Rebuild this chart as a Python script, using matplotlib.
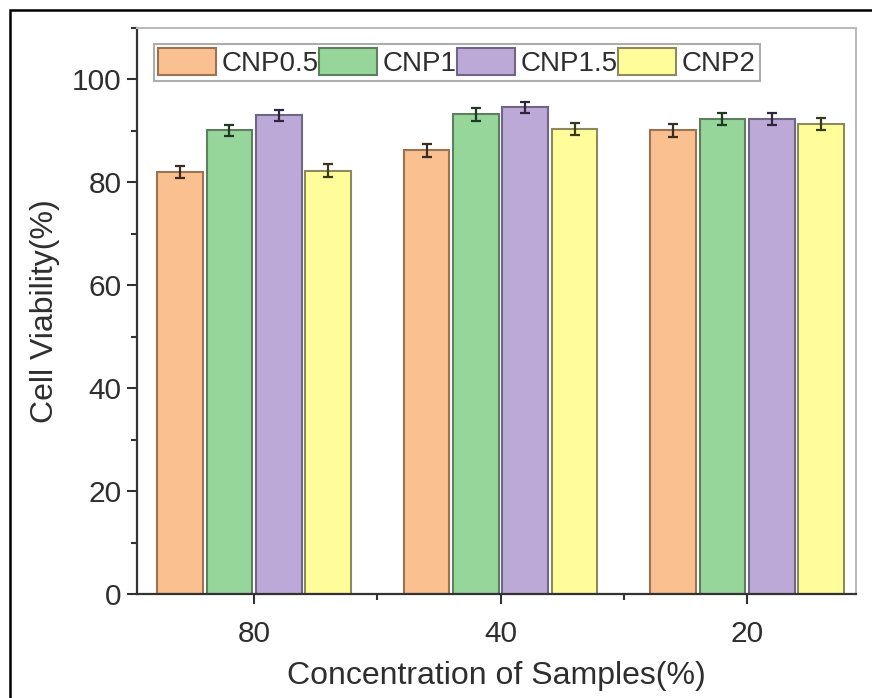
import numpy as np
import matplotlib
matplotlib.use("Agg")
import matplotlib.pyplot as plt
from matplotlib.patches import Rectangle
from matplotlib.ticker import MultipleLocator, FixedLocator

plt.rcParams['font.family'] = ['Liberation Sans', 'DejaVu Sans']

# Data
concentrations = ["80", "40", "20"]
series_names = ["CNP0.5", "CNP1", "CNP1.5", "CNP2"]
cnp05 = [82.0, 86.2, 90.1]
cnp1 = [90.1, 93.2, 92.3]
cnp15 = [93.0, 94.6, 92.3]
cnp2 = [82.3, 90.4, 91.4]
err05 = [1.2, 1.2, 1.2]
err1 = [1.1, 1.2, 1.2]
err15 = [1.1, 1.1, 1.2]
err2 = [1.2, 1.2, 1.2]

values = [cnp05, cnp1, cnp15, cnp2]
errors = [err05, err1, err15, err2]

fills = ["#FBC08F", "#97D69A", "#BDA9D8", "#FFFD9A"]
edges = ["#9A7452", "#5E7E5E", "#6F6685", "#8C8A5C"]
errcols = ["#3A2C22", "#1F3A22", "#2E2540", "#3A3A18"]

text_col = "#2E2E2E"

fig = plt.figure(figsize=(8.72, 6.98), dpi=100)
ax = fig.add_axes([137 / 872, 1 - 594 / 698, (856 - 137) / 872, (594 - 28) / 698])

x = np.arange(1, len(concentrations) + 1)
step = 0.2
width = 0.185
offsets = (np.arange(4) - 1.5) * step

handles = []
for i in range(4):
    b = ax.bar(x + offsets[i], values[i], width=width, color=fills[i],
               edgecolor=edges[i], linewidth=1.5, label=series_names[i], zorder=2)
    ax.errorbar(x + offsets[i], values[i], yerr=errors[i], fmt="none",
                ecolor=errcols[i], elinewidth=1.6, capsize=3.8, capthick=1.6, zorder=3)
    handles.append(b)

ax.set_xlim(0.525, 3.442)
ax.set_ylim(0, 110)

ax.set_xticks(x)
ax.set_xticklabels(concentrations)
ax.xaxis.set_minor_locator(FixedLocator([1.5, 2.5]))
ax.yaxis.set_major_locator(MultipleLocator(20))
ax.yaxis.set_minor_locator(MultipleLocator(10))

ax.tick_params(axis="both", which="major", direction="out", length=7, width=1.5,
               color="#333333", labelsize=21.5, labelcolor=text_col)
ax.tick_params(axis="x", which="major", pad=12)
ax.tick_params(axis="y", which="major", pad=4)
ax.tick_params(axis="both", which="minor", direction="out", length=4, width=1.5,
               color="#333333")

for side in ["left", "bottom"]:
    ax.spines[side].set_color("#333333")
    ax.spines[side].set_linewidth(1.6)
for side in ["top", "right"]:
    ax.spines[side].set_color("#BBBBBB")
    ax.spines[side].set_linewidth(1.5)

ax.set_xlabel("Concentration of Samples(%)", fontsize=23, color=text_col, labelpad=9)
ax.set_ylabel("Cell Viability(%)", fontsize=23, color=text_col, labelpad=9)

leg = ax.legend(handles=handles, labels=series_names, ncol=4, loc="upper left",
                bbox_to_anchor=(0.0236, 0.972), borderaxespad=0, fontsize=20,
                handlelength=2.1, handleheight=1.1, handletextpad=0.2,
                columnspacing=0.0, borderpad=0.15, frameon=True, fancybox=False,
                labelcolor=text_col)
leg.get_frame().set_edgecolor("#999999")
leg.get_frame().set_linewidth(1.5)

# Outer border around the figure
fig.patches.append(Rectangle((10 / 872, -0.05), 1.2, 1.05 - 10 / 698,
                             transform=fig.transFigure, fill=False,
                             edgecolor="black", linewidth=1.8))

fig.savefig("out.png", dpi=100)
